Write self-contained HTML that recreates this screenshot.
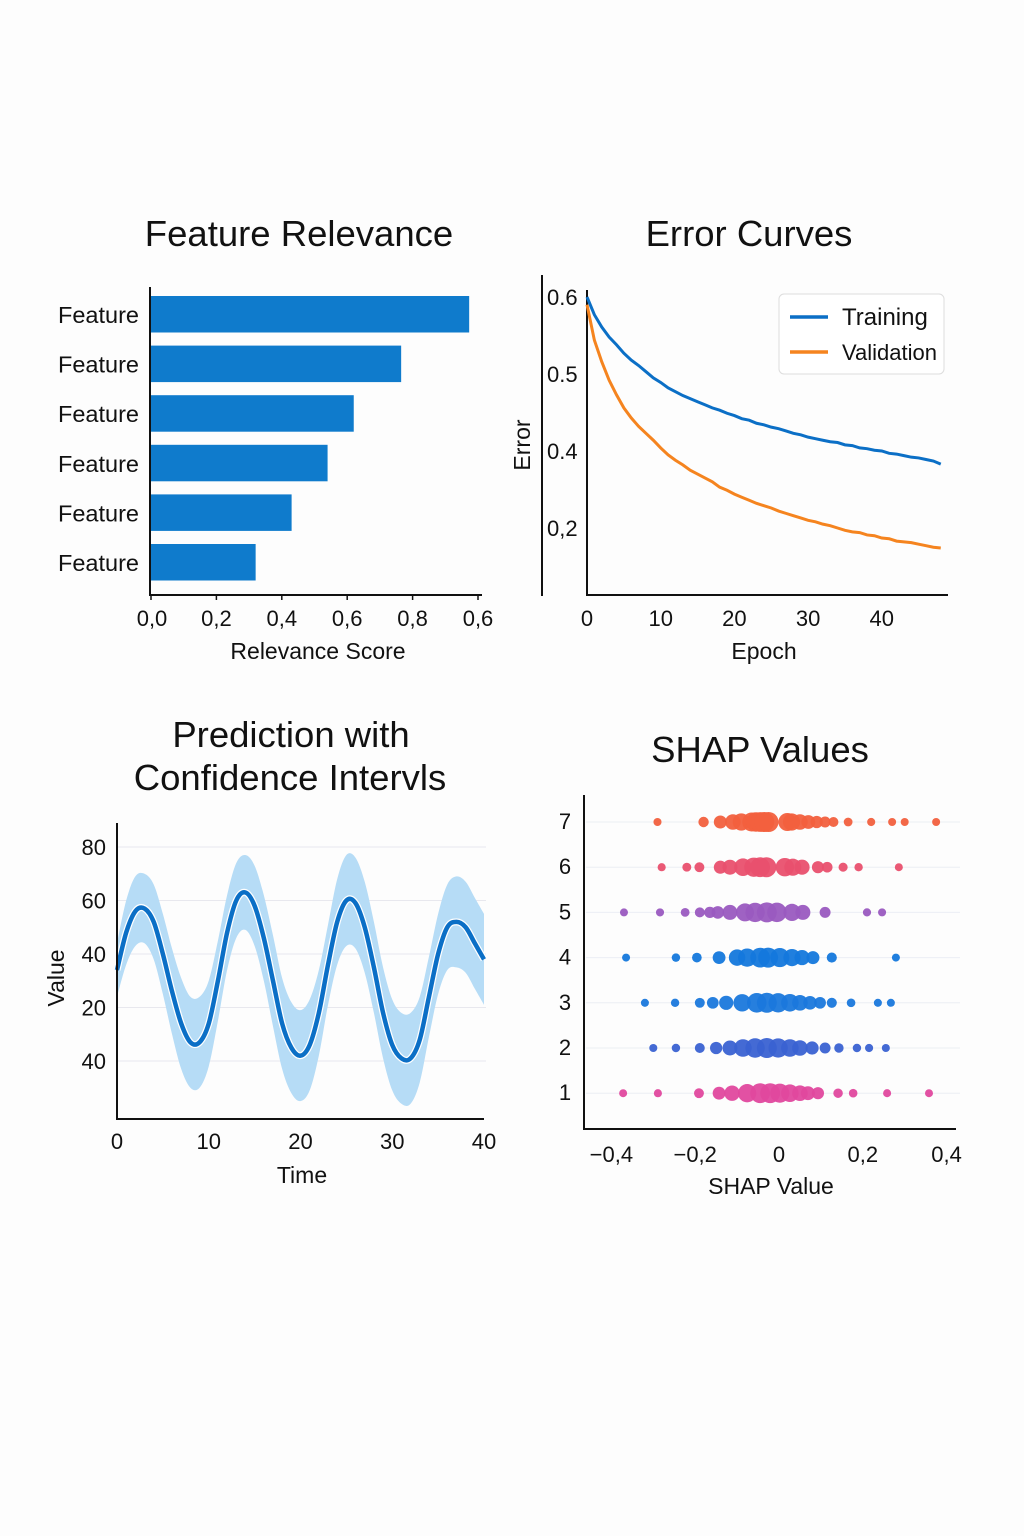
<!DOCTYPE html>
<html><head><meta charset="utf-8"><style>
html,body{margin:0;padding:0;background:#fff;}
svg{display:block;font-family:"Liberation Sans",sans-serif;}
</style></head><body>
<svg id="s" width="1024" height="1536" viewBox="0 0 1024 1536">
<rect width="1024" height="1536" fill="#fdfdfd"/>
<g id="c1"></g>
<g id="c2"></g>
<g id="c3"></g>
<g id="c4"></g>
</svg>
<script>
// ---- Chart 1 data
const featLabels=["Feature","Feature","Feature","Feature","Feature","Feature"];
const featValues=[0.973,0.765,0.62,0.54,0.43,0.32];
const relTicks=["0,0","0,2","0,4","0,6","0,8","0,6"];
const relTickVals=[0,0.2,0.4,0.6,0.8,1.0];
// ---- Chart 2 data
const epochs=[...Array(49).keys()];
const trainErr=[0.600,0.577,0.561,0.548,0.538,0.527,0.518,0.511,0.503,0.495,0.489,0.482,0.477,0.472,0.468,0.464,0.460,0.456,0.453,0.449,0.446,0.442,0.440,0.436,0.434,0.431,0.429,0.426,0.423,0.421,0.418,0.416,0.414,0.412,0.411,0.408,0.407,0.404,0.403,0.401,0.400,0.397,0.396,0.394,0.392,0.391,0.389,0.387,0.383];
const valErr=[0.590,0.544,0.516,0.492,0.473,0.456,0.443,0.432,0.423,0.414,0.404,0.395,0.388,0.382,0.375,0.370,0.365,0.360,0.353,0.349,0.344,0.340,0.336,0.332,0.329,0.326,0.322,0.319,0.316,0.313,0.310,0.308,0.305,0.303,0.300,0.297,0.295,0.294,0.291,0.290,0.287,0.286,0.283,0.282,0.281,0.279,0.277,0.275,0.274];
const errTickVals=[0.6,0.5,0.4,0.3];
const errTicks=["0.6","0.5","0.4","0,2"];
const epochTicks=[0,10,20,30,40];
// ---- Chart 3 data
const times=[...Array(41).keys()];
const predMean=[34,48,56,57,52,40,26,14,7,7,14,30,48,60,63,58,46,30,14,5,2,6,18,36,52,60,59,50,35,18,6,1,1,8,24,40,50,52,50,44,38];
const predHalf=[10,12,13,13,14,15,16,17,17,17,16,15,14,14,14,15,16,17,17,17,17,17,16,15,16,17,17,17,17,17,17,17,17,16,15,15,16,17,17,17,17];
const valTickVals=[80,60,40,20,0];
const valTicks=["80","60","40","20","40"];
const timeTicks=[0,10,20,30,40];
// ---- Chart 4 data
const shapRows=[7,6,5,4,3,2,1];
const shapColors=["#f2603e","#e9506e","#9a5ac0","#1478dc","#1a78dc","#3a62d2","#e0489e"];
const shap7=[-0.29,-0.18,-0.14,-0.11,-0.09,-0.065,-0.055,-0.045,-0.035,-0.025,0.02,0.03,0.05,0.07,0.09,0.11,0.13,0.165,0.22,0.27,0.30,0.375];
const shap6=[-0.28,-0.22,-0.19,-0.14,-0.117,-0.086,-0.06,-0.045,-0.03,0.014,0.033,0.055,0.093,0.115,0.153,0.19,0.286];
const shap5=[-0.37,-0.284,-0.224,-0.189,-0.165,-0.146,-0.117,-0.081,-0.057,-0.029,-0.005,0.031,0.057,0.11,0.21,0.246];
const shap4=[-0.365,-0.246,-0.196,-0.143,-0.1,-0.076,-0.045,-0.026,0.002,0.031,0.055,0.081,0.126,0.279];
const shap3=[-0.32,-0.248,-0.189,-0.158,-0.126,-0.088,-0.053,-0.029,-0.002,0.026,0.05,0.074,0.098,0.126,0.172,0.236,0.267];
const shap2=[-0.3,-0.246,-0.189,-0.15,-0.117,-0.086,-0.057,-0.029,-0.002,0.026,0.05,0.079,0.11,0.143,0.186,0.215,0.255];
const shap1=[-0.372,-0.289,-0.191,-0.143,-0.112,-0.076,-0.045,-0.021,0.002,0.026,0.05,0.069,0.093,0.141,0.177,0.258,0.358];
const shapTickVals=[-0.4,-0.2,0,0.2,0.4];
const shapTicks=["\u22120,4","\u22120,2","0","0,2","0,4"];

const NS="http://www.w3.org/2000/svg";
function mk(parent,tag,attrs,text){const e=document.createElementNS(NS,tag);for(const k in attrs)e.setAttribute(k,attrs[k]);if(text!==undefined)e.textContent=text;parent.appendChild(e);return e;}
function smooth(pts){let d="M"+pts[0][0]+","+pts[0][1];for(let i=0;i<pts.length-1;i++){const p0=pts[i-1]||pts[i],p1=pts[i],p2=pts[i+1],p3=pts[i+2]||p2;d+=" C"+(p1[0]+(p2[0]-p0[0])/6)+","+(p1[1]+(p2[1]-p0[1])/6)+" "+(p2[0]-(p3[0]-p1[0])/6)+","+(p2[1]-(p3[1]-p1[1])/6)+" "+p2[0]+","+p2[1];}return d;}
const TXT="#111";

// ===== Chart 1
(function(){
const g=document.getElementById('c1');
const x=v=>151+v*327;
let t=mk(g,'text',{x:299,y:246,'font-size':36.5,'text-anchor':'middle',fill:TXT},'Feature Relevance');


featValues.forEach((v,i)=>{
 const y=296+i*49.6;
 const r=mk(g,'rect',{x:151,y:y,width:x(v)-151,height:36.5,fill:'#0f7bcc'});
 
 
 const l=mk(g,'text',{x:139,y:y+27,'font-size':23.5,'text-anchor':'end',fill:TXT},featLabels[i]);
 
 
});
let a=mk(g,'path',{d:'M150,287 V595 H482',stroke:'#111',fill:'none','stroke-width':2});


relTickVals.forEach((v,i)=>{
 const xx=x(v);
 mk(g,'line',{x1:xx,x2:xx,y1:595,y2:600,stroke:'#111','stroke-width':1.5});
 const l=mk(g,'text',{x:i==0?152:xx,y:626,'font-size':22,'text-anchor':'middle',fill:TXT},relTicks[i]);
 
 
});
t=mk(g,'text',{x:318,y:659,'font-size':23,'text-anchor':'middle',fill:TXT},'Relevance Score');


})();

// ===== Chart 2
(function(){
const g=document.getElementById('c2');
const x=e=>587+e*7.37, y=v=>297+(0.6-v)*770;
let t=mk(g,'text',{x:749,y:246,'font-size':36.5,'text-anchor':'middle',fill:TXT},'Error Curves');


mk(g,'line',{x1:542,x2:542,y1:275,y2:596,stroke:'#111','stroke-width':2});
let a=mk(g,'path',{d:'M587,290 V595 H948',stroke:'#111',fill:'none','stroke-width':2});


errTickVals.forEach((v,i)=>{const l=mk(g,'text',{x:547,y:y(v)+8,'font-size':22,fill:TXT},errTicks[i]);
 
 });
epochTicks.forEach(e=>{const l=mk(g,'text',{x:x(e),y:626,'font-size':22,'text-anchor':'middle',fill:TXT},String(e));
 
 });
t=mk(g,'text',{x:764,y:659,'font-size':23,'text-anchor':'middle',fill:TXT},'Epoch');


t=mk(g,'text',{x:0,y:0,'font-size':23,'text-anchor':'middle',fill:TXT,transform:'translate(530,445) rotate(-90)'},'Error');


const tl=mk(g,'polyline',{points:epochs.map(e=>x(e)+','+y(trainErr[e])).join(' '),fill:'none',stroke:'#0b6fc6','stroke-width':3});


const vl=mk(g,'polyline',{points:epochs.map(e=>x(e)+','+y(valErr[e])).join(' '),fill:'none',stroke:'#f5841f','stroke-width':3});


const lg=mk(g,'g',{});


mk(lg,'rect',{x:779,y:294,width:165,height:80,rx:5,fill:'#fff',stroke:'#ddd'});
mk(lg,'line',{x1:790,x2:828,y1:317,y2:317,stroke:'#0b6fc6','stroke-width':3.5});
mk(lg,'line',{x1:790,x2:828,y1:352,y2:352,stroke:'#f5841f','stroke-width':3.5});
let e1=mk(lg,'text',{x:842,y:325,'font-size':24,fill:TXT},'Training');


let e2=mk(lg,'text',{x:842,y:360,'font-size':22,fill:TXT},'Validation');


})();

// ===== Chart 3
(function(){
const g=document.getElementById('c3');
const x=t=>117+t*9.175, y=v=>847+(80-v)*2.675;
let t=mk(g,'text',{x:291,y:747,'font-size':36.5,'text-anchor':'middle',fill:TXT},'Prediction with');


t=mk(g,'text',{x:290,y:790,'font-size':36.5,'text-anchor':'middle',fill:TXT},'Confidence Intervls');


valTickVals.forEach((v,i)=>{
 mk(g,'line',{x1:118,x2:486,y1:y(v),y2:y(v),stroke:'#e8e8ee','stroke-width':1});
 const l=mk(g,'text',{x:106,y:y(v)+8,'font-size':22,'text-anchor':'end',fill:TXT},valTicks[i]);
 
 
});
const up=times.map(i=>[x(i),y(predMean[i]+predHalf[i])]);
const lo=times.map(i=>[x(i),y(predMean[i]-predHalf[i])]).reverse();
const band=mk(g,'path',{d:smooth(up)+" L"+smooth(lo).slice(1)+" Z",fill:'#b6dcf6'});


mk(g,'path',{d:smooth(times.map(i=>[x(i),y(predMean[i])])),fill:'none',stroke:'#fff','stroke-width':7});
const ml2=mk(g,'path',{d:smooth(times.map(i=>[x(i),y(predMean[i])])),fill:'none',stroke:'#0b6fc6','stroke-width':4.5});


let a=mk(g,'path',{d:'M117,823 V1119 H484',stroke:'#111',fill:'none','stroke-width':2});


timeTicks.forEach(v=>{const l=mk(g,'text',{x:x(v),y:1149,'font-size':22,'text-anchor':'middle',fill:TXT},String(v));
 
 });
t=mk(g,'text',{x:302,y:1183,'font-size':23,'text-anchor':'middle',fill:TXT},'Time');


t=mk(g,'text',{x:0,y:0,'font-size':23,'text-anchor':'middle',fill:TXT,transform:'translate(64,978) rotate(-90)'},'Value');


})();

// ===== Chart 4
(function(){
const g=document.getElementById('c4');
const x=v=>779+v*419, y=r=>822+(7-r)*45.2;
let t=mk(g,'text',{x:760,y:762,'font-size':36.5,'text-anchor':'middle',fill:TXT},'SHAP Values');


const sets=[shap7,shap6,shap5,shap4,shap3,shap2,shap1];
shapRows.forEach((r,i)=>{
 mk(g,'line',{x1:586,x2:960,y1:y(r),y2:y(r),stroke:'#eceef4','stroke-width':1});
 const l=mk(g,'text',{x:565,y:y(r)+7,'font-size':22,'text-anchor':'middle',fill:TXT},String(r));
 
 
 sets[i].forEach(v=>{
  const rad=4+6*Math.exp(-Math.pow(v+0.03,2)/0.014);
  const c=mk(g,'circle',{cx:x(v),cy:y(r),r:rad,fill:shapColors[i],'fill-opacity':0.95});
  
  
 });
});
let a=mk(g,'path',{d:'M584,795 V1129 H956',stroke:'#111',fill:'none','stroke-width':2});


shapTickVals.forEach((v,i)=>{const l=mk(g,'text',{x:x(v),y:1162,'font-size':22,'text-anchor':'middle',fill:TXT},shapTicks[i]);
 
 });
t=mk(g,'text',{x:771,y:1194,'font-size':23,'text-anchor':'middle',fill:TXT},'SHAP Value');


})();
</script>
</body></html>
